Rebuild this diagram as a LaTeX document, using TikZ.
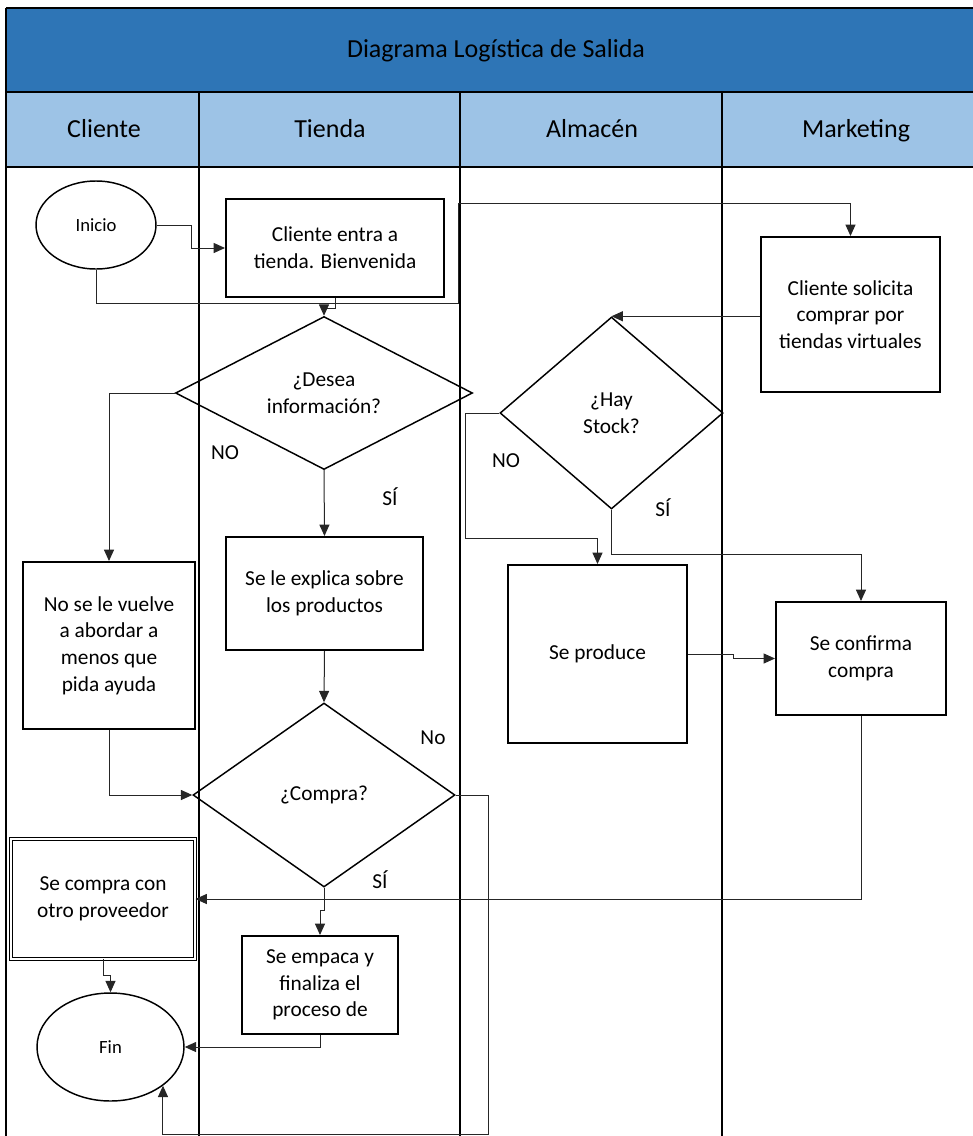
\documentclass[tikz,border=0pt]{standalone}
\usepackage{fontspec}
\setmainfont{Carlito}
\usetikzlibrary{arrows.meta,shapes.geometric}
\definecolor{azultitulo}{RGB}{46,117,182}
\definecolor{azulcarril}{RGB}{157,195,230}
\tikzset{
  caja/.style={draw, line width=1.5pt, align=center, inner sep=2pt, font=\fontsize{16}{20}\selectfont},
  rombo/.style={draw, diamond, aspect=2, inner sep=0pt, line width=1.1pt, align=center, font=\fontsize{16}{20}\selectfont},
  elipse/.style={draw, ellipse, inner sep=0pt, line width=1.1pt, font=\fontsize{14}{17}\selectfont},
  flecha/.style={draw=black!85, line width=0.75pt, -{Triangle[length=8.5pt,width=7.5pt]}},
  etiqueta/.style={font=\fontsize{16}{20}\selectfont},
  carril/.style={line width=1.6pt},
  cabecera/.style={font=\fontsize{19.5}{23}\selectfont, text height=14pt, text depth=4pt}
}

\begin{document}
\begin{tikzpicture}[x=0.75pt, y=-0.75pt]
			%%%%% START %%%%%
			\useasboundingbox (0,0) rectangle (973,1136);
			
			\fill[azultitulo] (6,8) rectangle (990,92);
			\fill[azulcarril] (6,92) rectangle (990,167);
			\draw[carril] (6,8) -- (990,8);
			\draw[carril] (6,92) -- (990,92);
			\draw[carril] (6,167) -- (990,167);
			\draw[carril] (6,8) -- (6,1140);
			\draw[carril] (199,92) -- (199,1140);
			\draw[carril] (460,92) -- (460,1140);
			\draw[carril] (722,92) -- (722,1140);
			
			\node[cabecera] (titulo) at (496,51) {Diagrama Logística de Salida};
			\node[cabecera] (hcliente) at (104,131) {Cliente};
			\node[cabecera] (htienda) at (330,131) {Tienda};
			\node[cabecera] (halmacen) at (592,131) {Almacén};
			\node[cabecera] (hmarketing) at (856,131) {Marketing};
			
			%%%%% NODOS %%%%%
			\node[elipse, minimum width=90pt, minimum height=66pt] (inicio) at (96,225) {Inicio};
			\node[caja, minimum width=163.5pt, minimum height=73.5pt] (entra) at (335,248) {Cliente entra a\\tienda. Bienvenida};
			\node[rombo, minimum width=222.75pt, minimum height=114.75pt] (desea) at (324,393) {¿Desea\\información?};
			\node[caja, minimum width=147.75pt, minimum height=84.75pt] (explica) at (324.5,593.5) {Se le explica sobre\\los productos};
			\node[caja, minimum width=129pt, minimum height=125.25pt] (novuelve) at (109,645.5) {No se le vuelve\\a abordar a\\menos que\\pida ayuda};
			\node[rombo, minimum width=196.5pt, minimum height=138pt] (compra) at (324,795) {¿Compra?};
			\node[caja, line width=0.7pt, double, double distance=1.2pt, minimum width=138pt, minimum height=90pt] (otro) at (103,899) {Se compra con\\otro proveedor};
			\node[caja, minimum width=117pt, minimum height=73.5pt] (empaca) at (320,985) {Se empaca y\\finaliza el\\proceso de};
			\node[elipse, minimum width=110.25pt, minimum height=81pt] (fin) at (110.5,1047) {Fin};
			
			\node[caja, minimum width=134.25pt, minimum height=116.25pt] (solicita) at (850.5,314.5) {Cliente solicita\\comprar por\\tiendas virtuales};
			\node[rombo, minimum width=167.25pt, minimum height=144pt] (stock) at (611.5,413) {¿Hay\\Stock?};
			\node[caja, minimum width=134.25pt, minimum height=133.5pt] (produce) at (597.5,654) {Se produce};
			\node[caja, minimum width=127.5pt, minimum height=84.75pt] (confirma) at (861,658.5) {Se confirma\\compra};
			
			\node[etiqueta] (nodesea) at (225,453) {NO};
			\node[etiqueta] (sidesea) at (390,497) {SÍ};
			\node[etiqueta] (nocompra) at (433,738) {No};
			\node[etiqueta] (sicompra) at (380,880) {SÍ};
			\node[etiqueta] (nostock) at (506,461) {NO};
			\node[etiqueta] (sistock) at (663,508) {SÍ};
			
			%%%%% FLECHAS %%%%%
			\draw[flecha] (inicio.east) -- ++(35,0) |- (entra.west);
			\draw[flecha] (inicio.south) -- ++(0,34) -| ++(362,-100) -| (solicita.north);
			\draw[flecha] (entra.south) -- ++(0,10) -| (desea.north);
			\draw[flecha] (desea.west) -| (novuelve.north);
			\draw[flecha] (desea.south) -- (explica.north);
			\draw[flecha] (explica.south) -- (compra.north);
			\draw[flecha] (novuelve.south) |- (compra.west);
			\draw[flecha] (compra.east) -- ++(33,0) -- ++(0,339) -| (fin.south east);
			\draw[flecha] (otro.south) -- ++(0,16) -| (fin.north);
			\draw[flecha] (compra.south) -- ++(0,23) -| (empaca.north);
			\draw[flecha] (empaca.south) |- (fin.east);
			
			\draw[flecha] (solicita.west |- stock.north) -- (stock.north);
			\draw[flecha] (stock.west) -- ++(-34,0) -- ++(0,125) -| (produce.north);
			\draw[flecha] (stock.south) -- ++(0,45) -| (confirma.north);
			\draw[flecha] (produce.east) -- ++(45,0) |- (confirma.west);
			\draw[flecha] (confirma.south) |- (otro.east);
			
			%%%%% END %%%%%
\end{tikzpicture}
\end{document}
